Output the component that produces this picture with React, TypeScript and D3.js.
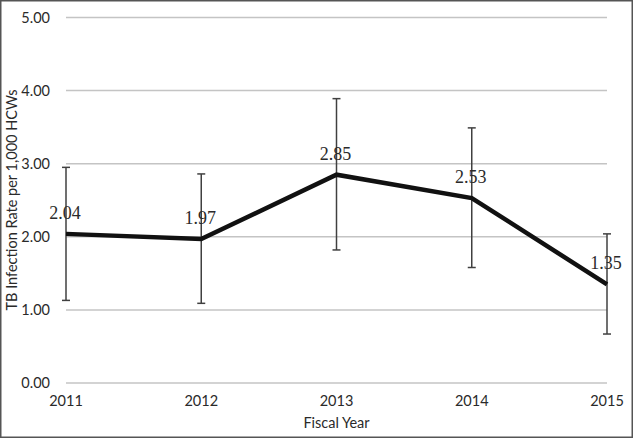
import React from "react";
import * as d3 from "d3";

const years = ["2011", "2012", "2013", "2014", "2015"];
const rates = [2.04, 1.97, 2.85, 2.53, 1.35];
const lower = [1.13, 1.09, 1.82, 1.58, 0.67];
const upper = [2.95, 2.86, 3.89, 3.49, 2.04];
const yTicks = [0, 1, 2, 3, 4, 5];

const W = 640;
const H = 443;
const M = { left: 66, right: 607, top: 17.5, bottom: 383 };

export default function App() {
  const x = d3.scalePoint<string>().domain(years).range([M.left, M.right]);
  const y = d3.scaleLinear().domain([0, 5]).range([M.bottom, M.top]);
  const line = d3
    .line<number>()
    .x((_, i) => x(years[i]) as number)
    .y((d) => y(d));
  const tickFont = "Lato, 'Open Sans', sans-serif";
  const labelFont = "'Liberation Serif', serif";
  return (
    <svg
      width={W}
      height={H}
      style={{ position: "absolute", left: 0, top: 0, background: "#fff" }}
    >
      <rect x={0.75} y={0.75} width={631.5} height={436.5} fill="#fff" stroke="#555" strokeWidth={1.5} />
      {yTicks.map((t) => (
        <g key={t}>
          <line x1={M.left} x2={M.right} y1={y(t)} y2={y(t)} stroke="#c4c4c4" strokeWidth={1.5} />
          <text
            x={50}
            y={y(t)}
            dy="0.36em"
            textAnchor="end"
            fontFamily={tickFont}
            fontSize={14.5}
            fill="#2a2a2a"
          >
            {t.toFixed(2)}
          </text>
        </g>
      ))}
      {years.map((yr) => (
        <text
          key={yr}
          x={x(yr)}
          y={406}
          textAnchor="middle"
          fontFamily={tickFont}
          fontSize={14.5}
          fill="#2a2a2a"
        >
          {yr}
        </text>
      ))}
      <text x={(M.left + M.right) / 2} y={428} textAnchor="middle" fontFamily={tickFont} fontSize={14.5} fill="#2a2a2a">
        Fiscal Year
      </text>
      <text
        transform={`translate(17,200) rotate(-90)`}
        textAnchor="middle"
        fontFamily={tickFont}
        fontSize={14.5}
        fill="#2a2a2a"
      >
        TB Infection Rate per 1,000 HCWs
      </text>
      {years.map((yr, i) => {
        const cx = x(yr) as number;
        return (
          <g key={"e" + yr} stroke="#404040" strokeWidth={1.5}>
            <line x1={cx} x2={cx} y1={y(lower[i])} y2={y(upper[i])} />
            <line x1={cx - 4} x2={cx + 4} y1={y(lower[i])} y2={y(lower[i])} />
            <line x1={cx - 4} x2={cx + 4} y1={y(upper[i])} y2={y(upper[i])} />
          </g>
        );
      })}
      <path d={line(rates) || ""} fill="none" stroke="#111" strokeWidth={4.5} strokeLinejoin="miter" />
      {rates.map((r, i) => (
        <text
          key={"l" + i}
          x={(x(years[i]) as number) - 1}
          y={y(r) - 15}
          textAnchor="middle"
          fontFamily={labelFont}
          fontSize={18}
          fill="#2a2a2a"
        >
          {r.toFixed(2)}
        </text>
      ))}
    </svg>
  );
}
